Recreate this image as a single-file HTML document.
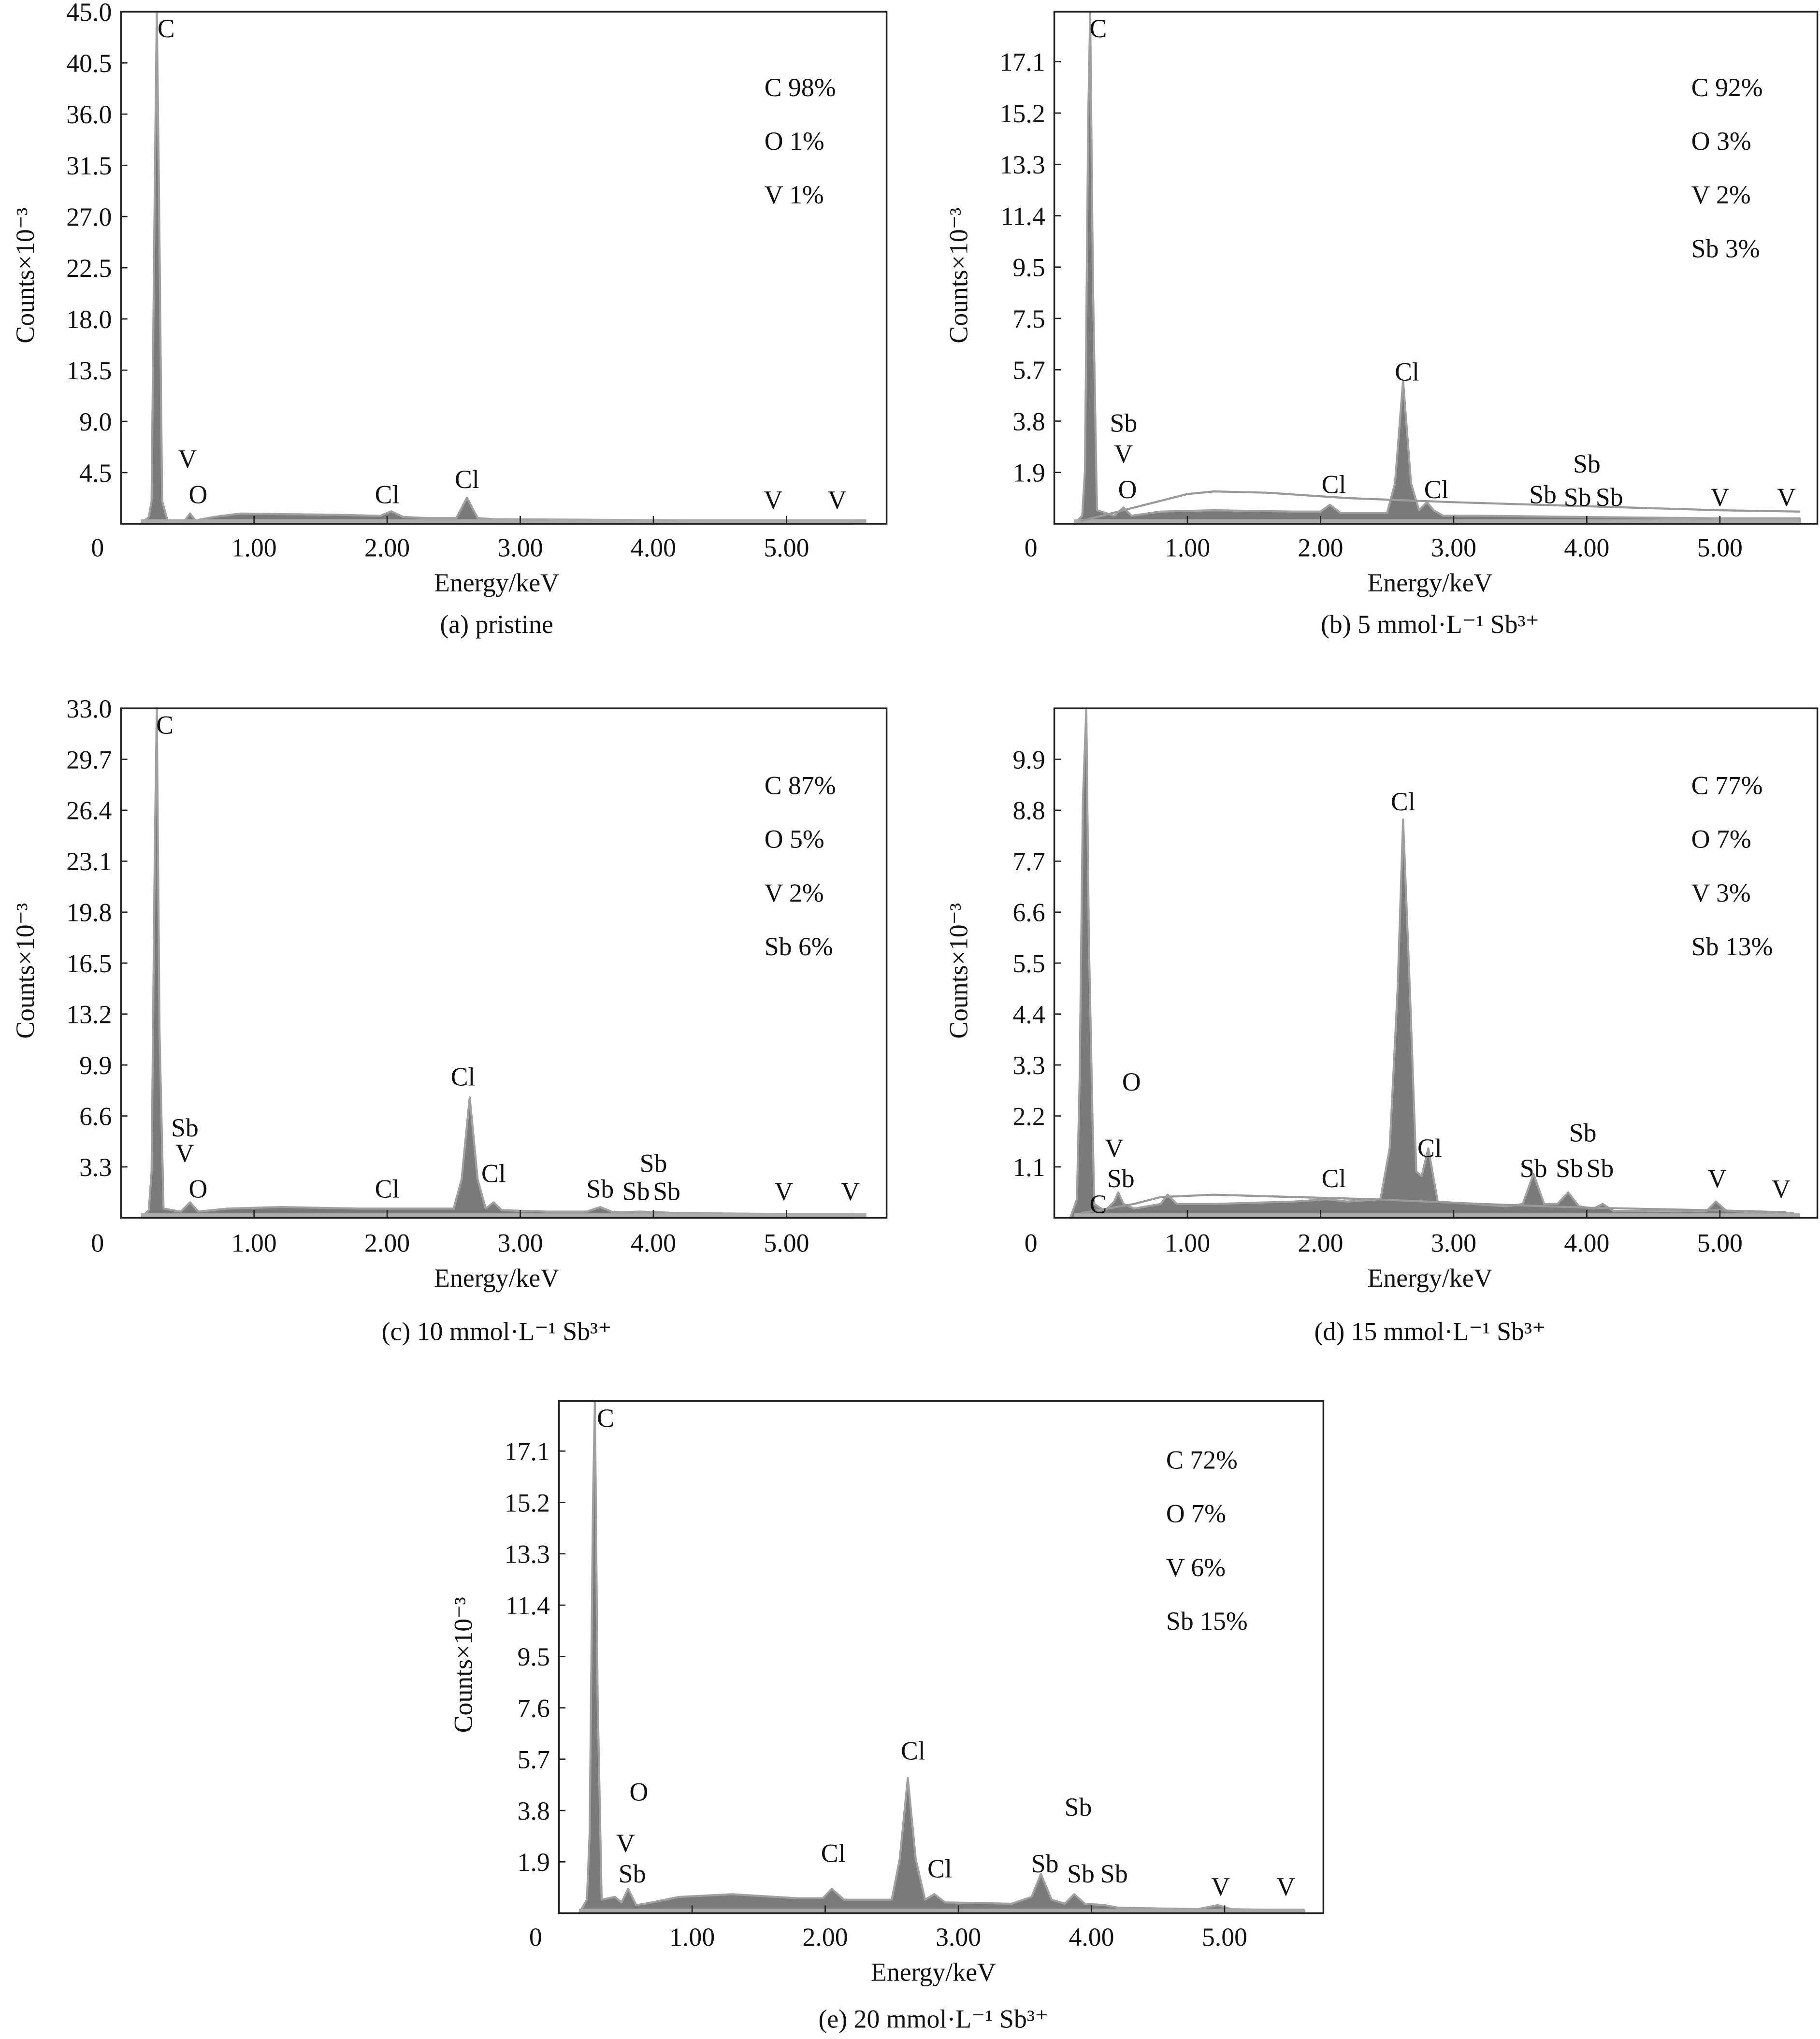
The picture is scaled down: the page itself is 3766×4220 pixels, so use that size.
<!DOCTYPE html>
<html><head><meta charset="utf-8"><style>
html,body{margin:0;padding:0;background:#fff}
svg{display:block}
text{font-family:"Liberation Serif","DejaVu Serif",serif;fill:#111}
</style></head><body>
<svg id="fig" width="3766" height="4220" viewBox="0 0 1400 1568.8" xmlns="http://www.w3.org/2000/svg"></svg>
<script>
// ---- data ----
const panelIds = ['a','b','c','d','e'];
const captions = ['(a) pristine','(b) 5 mmol·L⁻¹ Sb³⁺','(c) 10 mmol·L⁻¹ Sb³⁺','(d) 15 mmol·L⁻¹ Sb³⁺','(e) 20 mmol·L⁻¹ Sb³⁺'];
const yMaxes = [45.0, 18.95, 33.0, 11.0, 18.95];
const yTicksA = ['4.5','9.0','13.5','18.0','22.5','27.0','31.5','36.0','40.5','45.0'];
const yTicksB = ['1.9','3.8','5.7','7.5','9.5','11.4','13.3','15.2','17.1'];
const yTicksC = ['3.3','6.6','9.9','13.2','16.5','19.8','23.1','26.4','29.7','33.0'];
const yTicksD = ['1.1','2.2','3.3','4.4','5.5','6.6','7.7','8.8','9.9'];
const yTicksE = ['1.9','3.8','5.7','7.6','9.5','11.4','13.3','15.2','17.1'];
const yTickSteps = [4.5,1.9,3.3,1.1,1.9];
const xTicks = [1,2,3,4,5];
const compA = ['C 98%','O 1%','V 1%'];
const compB = ['C 92%','O 3%','V 2%','Sb 3%'];
const compC = ['C 87%','O 5%','V 2%','Sb 6%'];
const compD = ['C 77%','O 7%','V 3%','Sb 13%'];
const compE = ['C 72%','O 7%','V 6%','Sb 15%'];
// spectra: energy (keV) and counts (x10^3)
const eA = [0.15,0.21,0.23,0.255,0.27,0.285,0.31,0.35,0.48,0.52,0.56,0.7,0.9,1.2,1.6,1.95,2.03,2.12,2.3,2.52,2.6,2.68,2.8,3.5,4.5,5.5];
const cA = [0,0.6,2.0,30,45,30,2.0,0.3,0.3,0.9,0.3,0.6,0.9,0.85,0.8,0.7,1.1,0.6,0.5,0.5,2.3,0.5,0.4,0.35,0.3,0.3];
const eB = [0.15,0.21,0.23,0.255,0.27,0.29,0.32,0.45,0.52,0.58,0.8,1.2,1.8,2.0,2.07,2.15,2.5,2.56,2.62,2.68,2.74,2.8,2.85,2.92,3.2,4.0,5.0,5.6];
const cB = [0,0.3,2,15,18.9,9,0.5,0.3,0.6,0.3,0.45,0.5,0.45,0.45,0.7,0.4,0.4,1.5,5.3,1.5,0.5,0.8,0.5,0.3,0.3,0.25,0.2,0.2];
const bgE_B = [0.2,0.6,1.0,1.2,1.6,2.2,3.0,4.0,5.0,5.6];
const bgC_B = [0.1,0.6,1.1,1.2,1.15,0.95,0.8,0.65,0.5,0.45];
const eC = [0.15,0.21,0.23,0.255,0.27,0.29,0.32,0.45,0.52,0.58,0.8,1.2,1.8,2.5,2.56,2.62,2.68,2.74,2.8,2.86,3.2,3.5,3.6,3.7,3.9,4.2,5.0,5.5];
const cC = [0,0.5,3,24,33,12,0.6,0.4,1.0,0.4,0.6,0.7,0.6,0.6,2.5,7.8,2.5,0.6,1.0,0.5,0.4,0.4,0.7,0.35,0.4,0.3,0.25,0.25];
const eD = [0.12,0.17,0.19,0.215,0.24,0.26,0.3,0.38,0.45,0.48,0.52,0.6,0.8,0.85,0.92,1.2,1.8,2.05,2.2,2.45,2.52,2.58,2.62,2.67,2.72,2.76,2.81,2.88,3.4,3.52,3.6,3.68,3.78,3.86,3.94,4.05,4.12,4.2,4.6,4.9,4.97,5.05,5.3,5.55];
const cD = [0,0.4,3,9,11,6,0.3,0.15,0.35,0.55,0.3,0.2,0.3,0.5,0.3,0.3,0.35,0.4,0.35,0.4,1.5,5,8.6,5,1.0,0.9,1.5,0.35,0.25,0.3,0.95,0.3,0.3,0.55,0.25,0.2,0.3,0.15,0.15,0.15,0.35,0.15,0.12,0.1];
const bgE_D = [0.2,0.6,0.8,1.2,1.8,2.4,3.2,4.0,5.0,5.5];
const bgC_D = [0.1,0.3,0.45,0.5,0.45,0.4,0.3,0.22,0.16,0.12];
const eE = [0.15,0.21,0.23,0.255,0.27,0.29,0.32,0.42,0.47,0.52,0.58,0.7,0.9,1.3,1.8,1.98,2.05,2.14,2.5,2.56,2.62,2.68,2.75,2.82,2.9,3.4,3.55,3.62,3.7,3.8,3.87,3.95,4.1,4.2,4.8,4.95,5.05,5.6];
const cE = [0,0.5,3,15,18.95,8,0.5,0.6,0.4,0.9,0.3,0.4,0.6,0.7,0.55,0.55,0.9,0.5,0.5,2,5.0,2,0.5,0.7,0.4,0.35,0.6,1.45,0.5,0.35,0.7,0.35,0.3,0.2,0.15,0.3,0.15,0.1];
const spectraE = [eA,eB,eC,eD,eE];
const spectraC = [cA,cB,cC,cD,cE];
const yTickSets = [yTicksA,yTicksB,yTicksC,yTicksD,yTicksE];
const comps = [compA,compB,compC,compD,compE];
// peak labels: [text, energy, height fraction]
const labelsA = [['C',0.34,0.95],['V',0.5,0.11],['O',0.58,0.04],['Cl',2.0,0.04],['Cl',2.6,0.07],['V',4.9,0.03],['V',5.38,0.03]];
const labelsB = [['C',0.33,0.95],['Sb',0.52,0.18],['V',0.52,0.12],['O',0.55,0.05],['Cl',2.1,0.06],['Cl',2.65,0.28],['Cl',2.87,0.05],['Sb',3.67,0.04],['Sb',3.93,0.035],['Sb',4.0,0.10],['Sb',4.17,0.035],['V',5.0,0.035],['V',5.5,0.035]];
const labelsC = [['C',0.33,0.95],['Sb',0.48,0.16],['V',0.48,0.11],['O',0.58,0.04],['Cl',2.0,0.04],['Cl',2.57,0.26],['Cl',2.8,0.07],['Sb',3.6,0.04],['Sb',3.87,0.035],['Sb',4.0,0.09],['Sb',4.1,0.035],['V',4.98,0.035],['V',5.48,0.035]];
const labelsD = [['C',0.33,0.01],['Sb',0.5,0.06],['V',0.45,0.12],['O',0.58,0.25],['Cl',2.1,0.06],['Cl',2.62,0.8],['Cl',2.82,0.12],['Sb',3.6,0.08],['Sb',3.87,0.08],['Sb',3.97,0.15],['Sb',4.1,0.08],['V',4.98,0.06],['V',5.46,0.04]];
const labelsE = [['C',0.35,0.95],['O',0.6,0.22],['V',0.5,0.12],['Sb',0.55,0.06],['Cl',2.06,0.1],['Cl',2.66,0.3],['Cl',2.86,0.07],['Sb',3.65,0.08],['Sb',3.9,0.19],['Sb',3.92,0.06],['Sb',4.17,0.06],['V',4.97,0.035],['V',5.46,0.035]];
const labelSets = [labelsA,labelsB,labelsC,labelsD,labelsE];
const bgSets = [[null,null],[bgE_B,bgC_B],[null,null],[bgE_D,bgC_D],[null,null]];

// ---- layout ----
const boxes = [
  {x0:93,x1:682,y0:9,y1:403,ty:421,xl:382,xly:448,cy:480,compX:588,compY:67,ylx:20},
  {x0:811,x1:1398,y0:9,y1:403,ty:421,xl:1100,xly:448,cy:480,compX:1301,compY:67,ylx:738},
  {x0:93,x1:682,y0:545,y1:937,ty:956,xl:382,xly:983,cy:1024,compX:588,compY:604,ylx:20},
  {x0:811,x1:1398,y0:545,y1:937,ty:956,xl:1100,xly:983,cy:1024,compX:1301,compY:604,ylx:738},
  {x0:430,x1:1018,y0:1078,y1:1472,ty:1490,xl:718,xly:1517,cy:1553,compX:897,compY:1123,ylx:357}
];
const NS='http://www.w3.org/2000/svg';
const svg=document.getElementById('fig');
function mk(tag,attrs,parent){const el=document.createElementNS(NS,tag);for(const k in attrs)el.setAttribute(k,attrs[k]);(parent||svg).appendChild(el);return el;}
function txt(s,attrs,parent){const el=mk('text',attrs,parent);el.textContent=s;return el;}

boxes.forEach((b,i)=>{
  const g=mk('g',{});
  
  
  const pxPerKeV=102.4;
  const xs=e=>b.x0+e*pxPerKeV;
  const ys=c=>b.y1-(c/yMaxes[i])*(b.y1-b.y0);
  const E=spectraE[i],C=spectraC[i];
  let d='M'+xs(E[0]).toFixed(1)+','+ys(0).toFixed(1);
  for(let k=0;k<E.length;k++)d+=' L'+xs(E[k]).toFixed(1)+','+ys(Math.min(C[k],yMaxes[i])).toFixed(1);
  d+=' L'+xs(E[E.length-1]).toFixed(1)+','+ys(0).toFixed(1)+' Z';
  const sp=mk('path',{d:d,fill:'#7a7a7a',stroke:'#a0a0a0','stroke-width':1.6,'stroke-linejoin':'round'},g);
  
  
  const bl=mk('line',{x1:xs(0.15),x2:xs(5.6),y1:ys(0)-2,y2:ys(0)-2,stroke:'#aaa','stroke-width':3},g);
  
  
  const bg=bgSets[i];
  if(bg[0]){
    let bd='';
    bg[0].forEach((e,k)=>{bd+=(k?' L':'M')+xs(e).toFixed(1)+','+ys(bg[1][k]).toFixed(1);});
    const bp=mk('path',{d:bd,fill:'none',stroke:'#999','stroke-width':1.6},g);
    
    
  }
  const fr=mk('rect',{x:b.x0,y:b.y0,width:b.x1-b.x0,height:b.y1-b.y0,fill:'none',stroke:'#222','stroke-width':1.3},g);
  
  
  yTickSets[i].forEach((t,k)=>{
    const v=yTickSteps[i]*(k+1);
    const y=ys(v);
    mk('line',{x1:b.x0,x2:b.x0+5,y1:y,y2:y,stroke:'#222','stroke-width':1},g);
    const tl=txt(t,{x:b.x0-7,y:y+7,'text-anchor':'end','font-size':20},g);
    
    
  });
  const z=txt('0',{x:b.x0-18,y:b.ty+7,'text-anchor':'middle','font-size':20},g);
  
  
  xTicks.forEach(t=>{
    const x=xs(t);
    mk('line',{x1:x,x2:x,y1:b.y1,y2:b.y1-6,stroke:'#222','stroke-width':1},g);
    const tl=txt(t.toFixed(2),{x:x,y:b.ty+7,'text-anchor':'middle','font-size':20},g);
    
    
  });
  const xt=txt('Energy/keV',{x:b.xl,y:b.xly+7,'text-anchor':'middle','font-size':20},g);
  
  
  const ycy=(b.y0+b.y1)/2;
  const yt=txt('Counts×10⁻³',{x:b.ylx,y:ycy,'text-anchor':'middle','font-size':20,transform:'rotate(-90 '+(b.ylx+6)+' '+ycy+')'},g);
  
  
  const cp=txt(captions[i],{x:b.xl,y:b.cy+7,'text-anchor':'middle','font-size':20},g);
  
  
  comps[i].forEach((c,k)=>{
    const ct=txt(c,{x:b.compX,y:b.compY+k*41.3+7,'font-size':20},g);
    
    
  });
  labelSets[i].forEach(l=>{
    const y=b.y1-l[2]*(b.y1-b.y0);
    const pl=txt(l[0],{x:xs(l[1]),y:y,'text-anchor':'middle','font-size':20},g);
    
    
  });
});
</script>
</body></html>
